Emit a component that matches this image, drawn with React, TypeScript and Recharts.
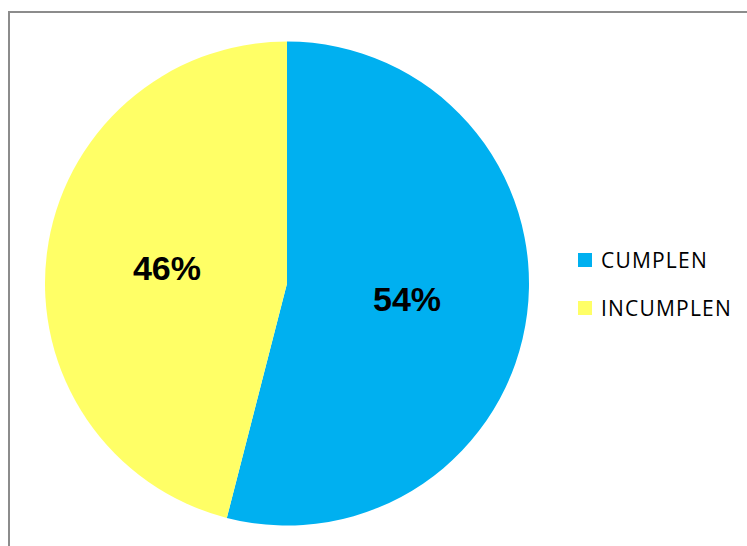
import React from "react";
import { PieChart, Pie, Cell, Legend } from "recharts";

const categories = ["CUMPLEN", "INCUMPLEN"];
const values = [54, 46];
const colors = ["#00B0F0", "#FFFF66"];

const data = categories.map((name, i) => ({ name, value: values[i] }));

const RAD = Math.PI / 180;

const renderLabel = (props: any) => {
  const { cx, cy, midAngle, outerRadius, value } = props;
  const r = outerRadius * 0.5;
  const x = cx + r * Math.cos(-midAngle * RAD);
  const y = cy + r * Math.sin(-midAngle * RAD);
  return (
    <text
      x={x}
      y={y}
      textAnchor="middle"
      dominantBaseline="central"
      fill="#000"
      style={{ fontFamily: "Liberation Sans, Arial, sans-serif", fontWeight: 700, fontSize: 34 }}
    >
      {`${value}%`}
    </text>
  );
};

const renderLegend = () => (
  <div style={{ fontFamily: "Open Sans, sans-serif", fontSize: 21, color: "#000" }}>
    {data.map((d, i) => (
      <div key={d.name} style={{ display: "flex", alignItems: "center", height: 48 }}>
        <div style={{ width: 14, height: 14, background: colors[i], marginRight: 9 }} />
        <span style={{ letterSpacing: 1.2, lineHeight: "21px" }}>{d.name}</span>
      </div>
    ))}
  </div>
);

export default function App() {
  return (
    <div
      style={{
        position: "absolute",
        left: 8,
        top: 11,
        width: 739,
        height: 535,
        overflow: "hidden",
        borderTop: "2px solid #8C8C8C",
        borderLeft: "2px solid #8C8C8C",
        boxSizing: "border-box",
        background: "#fff",
      }}
    >
      <PieChart width={737} height={533} margin={{ top: 0, right: 0, bottom: 0, left: 0 }}>
        <Pie
          data={data}
          dataKey="value"
          nameKey="name"
          cx={277}
          cy={270.5}
          outerRadius={242}
          startAngle={90}
          endAngle={-270}
          stroke="none"
          label={renderLabel}
          labelLine={false}
          isAnimationActive={false}
        >
          {data.map((d, i) => (
            <Cell key={d.name} fill={colors[i]} />
          ))}
        </Pie>
        <Legend
          content={renderLegend}
          wrapperStyle={{ position: "absolute", left: 568, top: 223, width: 169 }}
        />
      </PieChart>
    </div>
  );
}
